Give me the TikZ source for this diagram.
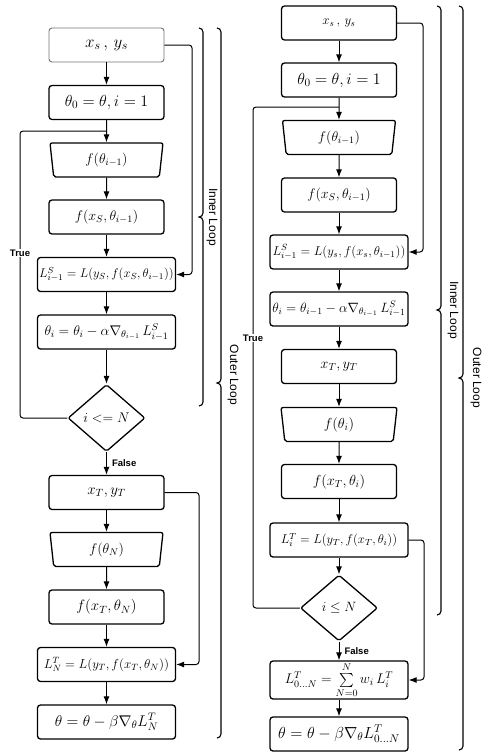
\RequirePackage{fix-cm}
\documentclass[tikz,border=0pt]{standalone}
\usepackage{amsmath,amssymb}
\usepackage{fontspec}
\setsansfont{Liberation Sans}
\usetikzlibrary{shapes.geometric,arrows.meta}
\newcommand{\fsz}[1]{\fontsize{#1}{#1}\selectfont}

\begin{document}
\begin{tikzpicture}[x=1pt, y=-1pt,
    box_node/.style={draw, rounded corners=3pt, line width=1.3pt, minimum width=115pt, minimum height=34pt, inner sep=1pt, font=\fsz{14}},
    wide_node/.style={box_node, minimum width=138pt},
    trap_node/.style={draw, trapezium, trapezium angle=77, trapezium stretches body=true, shape border rotate=180, rounded corners=2pt, line width=1.3pt, minimum width=113pt, minimum height=34pt, inner sep=1pt, font=\fsz{14}},
    test_node/.style={draw, diamond, aspect=1.14, rounded corners=2pt, line width=1.3pt, minimum width=77pt, minimum height=67pt, inner sep=0pt, font=\fsz{14}},
    flow_arrow/.style={-{Latex[length=8pt,width=6pt]}, line width=1pt},
    loop_line/.style={line width=1pt, rounded corners=3pt},
    brace_line/.style={line width=1.1pt},
    tag_node/.style={font=\sffamily\bfseries\fsz{9.5}, fill=white, inner sep=1pt},
    loop_label/.style={font=\sffamily\fsz{12}, rotate=-90}]
    \useasboundingbox (0,0) rectangle (490,755);

    % left flow
    \node[box_node, draw=black!55, line width=0.9pt, font=\fsz{17}] (l1) at (106.5,45) {$x_s\,,\,y_s$};
    \node[box_node, font=\fsz{16}] (l2) at (106.5,102.5) {$\theta_0 = \theta, i = 1$};
    \node[trap_node] (l3) at (106.5,160) {$f(\theta_{i-1})$};
    \node[box_node] (l4) at (106.5,217) {$f(x_S, \theta_{i-1})$};
    \node[wide_node, font=\fsz{12.6}] (l5) at (106.5,274.5) {$L^{S}_{i-1} = L(y_S, f(x_S, \theta_{i-1}))$};
    \node[wide_node] (l6) at (106.5,332) {$\theta_i = \theta_i - \alpha\nabla_{\theta_{i-1}}\, L^{S}_{i-1}$};
    \node[test_node] (l7) at (106.5,418) {$i <= N$};
    \node[box_node, font=\fsz{15}] (l8) at (106.5,492.5) {$x_T, y_T$};
    \node[trap_node] (l9) at (106.5,549.5) {$f(\theta_N)$};
    \node[box_node, font=\fsz{15}] (l10) at (106.5,607) {$f(x_T, \theta_N)$};
    \node[wide_node, font=\fsz{13}] (l11) at (106.5,664.5) {$L^{T}_{N} = L(y_T, f(x_T, \theta_N))$};
    \node[wide_node, font=\fsz{15.5}] (l12) at (106.5,722) {$\theta = \theta - \beta\nabla_{\theta} L^{T}_{N}$};

    \coordinate (lj) at (106.5,131);
    \coordinate (lt) at (20,131);
    \coordinate (la) at (192,45);
    \coordinate (lb) at (199,492.5);

    \draw[flow_arrow] (l1) -- (l2);
    \draw[flow_arrow] (l2) -- (l3);
    \draw[flow_arrow] (l3) -- (l4);
    \draw[flow_arrow] (l4) -- (l5);
    \draw[flow_arrow] (l5) -- (l6);
    \draw[flow_arrow] (l6) -- (l7);
    \draw[flow_arrow] (l7) -- node[tag_node, right=4pt] {False} (l8);
    \draw[flow_arrow] (l8) -- (l9);
    \draw[flow_arrow] (l9) -- (l10);
    \draw[flow_arrow] (l10) -- (l11);
    \draw[flow_arrow] (l11) -- (l12);
    \draw[loop_line] (l7.west) -| (lt) -- (lj);
    \draw[flow_arrow, rounded corners=3pt] (l1.east) -- (la) |- (l5.east);
    \draw[flow_arrow, rounded corners=3pt] (l8.east) -- (lb) |- (l11.east);
    \node[tag_node] (ltrue) at (20,253) {True};

    % right flow
    \node[box_node, font=\fsz{13}] (r1) at (339,23) {$x_s\,,\,y_s$};
    \node[box_node, font=\fsz{16}] (r2) at (339,80) {$\theta_0 = \theta, i = 1$};
    \node[trap_node] (r3) at (339,137.5) {$f(\theta_{i-1})$};
    \node[box_node] (r4) at (339,195) {$f(x_S, \theta_{i-1})$};
    \node[wide_node, font=\fsz{12.8}] (r5) at (339,252) {$L^{S}_{i-1} = L(y_s, f(x_s, \theta_{i-1}))$};
    \node[wide_node, font=\fsz{13.5}] (r6) at (339,309) {$\theta_i = \theta_{i-1} - \alpha\nabla_{\theta_{i-1}}\, L^{S}_{i-1}$};
    \node[box_node, font=\fsz{14.5}] (r7) at (339,366.5) {$x_T, y_T$};
    \node[trap_node, minimum width=116pt, font=\fsz{14.5}] (r8) at (339,424.5) {$f(\theta_i)$};
    \node[box_node, font=\fsz{14.5}] (r9) at (339,481.5) {$f(x_T, \theta_i)$};
    \node[wide_node, font=\fsz{12.7}] (r10) at (339,540) {$L^{T}_{i} = L(y_T, f(x_T, \theta_i))$};
    \node[test_node, minimum height=66pt, font=\fsz{13.5}] (r11) at (339,608) {$i \leq N$};
    \node[wide_node, minimum height=38pt] (r12) at (339,680) {$L^{T}_{0\ldots N} = \sum\limits_{N=0}^{N} w_i\, L^{T}_{i}$};
    \node[wide_node, font=\fsz{16}] (r13) at (339,734) {$\theta = \theta - \beta\nabla_{\theta} L^{T}_{0\ldots N}$};

    \coordinate (rj) at (339,107);
    \coordinate (rt) at (253,107);
    \coordinate (ra) at (423,23);
    \coordinate (rb) at (424,540);

    \draw[flow_arrow] (r1) -- (r2);
    \draw[flow_arrow] (r2) -- (r3);
    \draw[flow_arrow] (r3) -- (r4);
    \draw[flow_arrow] (r4) -- (r5);
    \draw[flow_arrow] (r5) -- (r6);
    \draw[flow_arrow] (r6) -- (r7);
    \draw[flow_arrow] (r7) -- (r8);
    \draw[flow_arrow] (r8) -- (r9);
    \draw[flow_arrow] (r9) -- (r10);
    \draw[flow_arrow] (r10) -- (r11);
    \draw[flow_arrow] (r11) -- node[tag_node, right=4pt] {False} (r12);
    \draw[flow_arrow] (r12) -- (r13);
    \draw[loop_line] (r11.west) -| (rt) -- (rj);
    \draw[flow_arrow, rounded corners=3pt] (r1.east) -- (ra) |- (r5.east);
    \draw[flow_arrow, rounded corners=3pt] (r10.east) -- (rb) |- (r12.east);
    \node[tag_node] (rtrue) at (253,338) {True};

    % loop braces
    \draw[brace_line] (199,28) to[out=0,in=90] (203,32) -- (203,213) to[out=-90,in=0] (199,217) to[out=0,in=90] (203,221) -- (203,402) to[out=-90,in=0] (199,406);
    \draw[brace_line] (217,28) to[out=0,in=90] (221,32) -- (221,379) to[out=-90,in=0] (217,383) to[out=0,in=90] (221,387) -- (221,734) to[out=-90,in=0] (217,738);
    \draw[brace_line] (437,6) to[out=0,in=90] (441,10) -- (441,306) to[out=-90,in=0] (437,310) to[out=0,in=90] (441,314) -- (441,611) to[out=-90,in=0] (437,615);
    \draw[brace_line] (459,6) to[out=0,in=90] (463,10) -- (463,374) to[out=-90,in=0] (459,378) to[out=0,in=90] (463,382) -- (463,746) to[out=-90,in=0] (459,750);
    \node[loop_label] (lin) at (212,217) {Inner Loop};
    \node[loop_label] (lout) at (233,375) {Outer Loop};
    \node[loop_label] (rin) at (453,310) {Inner Loop};
    \node[loop_label] (rout) at (476,378) {Outer Loop};
\end{tikzpicture}
\end{document}
